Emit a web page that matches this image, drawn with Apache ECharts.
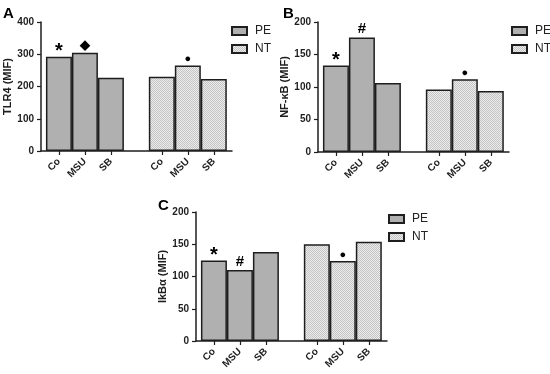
<!DOCTYPE html>
<html><head><meta charset="utf-8">
<script src="https://cdn.jsdelivr.net/npm/echarts@6/dist/echarts.min.js"></script>
<style>html,body{margin:0;padding:0;background:#fff}#c{width:550px;height:374px}</style>
</head><body><div id="c"></div>
<script>
// ---- data ----
const categories = ['Co', 'MSU', 'SB'];
const seriesNames = ['PE', 'NT'];
const tlr4PE = [292, 305, 227];
const tlr4NT = [230, 265, 223];
const nfkbPE = [133, 176, 106];
const nfkbNT = [96, 112, 94];
const ikbPE = [125, 110, 138];
const ikbNT = [150, 124, 154];
const markA_PE = ['*', '◆', ''];
const markA_NT = ['', '●', ''];
const markB_PE = ['*', '#', ''];
const markB_NT = ['', '●', ''];
const markC_PE = ['*', '#', ''];
const markC_NT = ['', '●', ''];

// slot positions along the x axis (in bar-width units)
const slotPE = [0.69, 1.69, 2.69];
const slotNT = [4.65, 5.65, 6.65];
const X_MAX = 7.35;
const tickX = slotPE.concat(slotNT);
const tickLabels = categories.concat(categories);

// ---- styles ----
const FONT = '"Liberation Sans", Arial, sans-serif';
const INK = '#1e1e1e';
function makePattern() {
  const c = document.createElement('canvas');
  c.width = 2; c.height = 2;
  const g = c.getContext('2d');
  g.fillStyle = '#ececec'; g.fillRect(0, 0, 2, 2);
  g.fillStyle = '#c4c4c4'; g.fillRect(0, 0, 1, 1); g.fillRect(1, 1, 1, 1);
  return c;
}
const ntFill = { image: makePattern(), repeat: 'repeat' };
const peFill = '#b0b0b0';
const markStyles = {
  '*': { fontSize: 20, padding: [0, 0, -6, 0] },
  '◆': { fontSize: 13, padding: [0, 0, 0, 0] },
  '●': { fontSize: 11, padding: [0, 0, 0, 0] },
  '#': { fontSize: 15, padding: [0, 0, 0, 0] }
};

const panels = [
  { title: 'A', tLeft: 3, tTop: 6, left: 41, top: 22, height: 129, yMax: 400, yInt: 100, yName: 'TLR4 (MIF)', pe: tlr4PE, nt: tlr4NT, mPE: markA_PE, mNT: markA_NT, lgLeft: 231, lgTop: 25 },
  { title: 'B', tLeft: 283, tTop: 6, left: 318, top: 22, height: 130, yMax: 200, yInt: 50, yName: 'NF-κB (MIF)', pe: nfkbPE, nt: nfkbNT, mPE: markB_PE, mNT: markB_NT, lgLeft: 511, lgTop: 25 },
  { title: 'C', tLeft: 158, tTop: 198, left: 196, top: 212, height: 129, yMax: 200, yInt: 50, yName: 'IkBα (MIF)', pe: ikbPE, nt: ikbNT, mPE: markC_PE, mNT: markC_NT, lgLeft: 388, lgTop: 213 }
];
const GRID_W = 191;
const BAR_W = GRID_W / X_MAX;

function markLabel(marks) {
  const rich = {};
  Object.keys(markStyles).forEach((k, i) => {
    rich['m' + i] = Object.assign({ fontWeight: 'bold', color: '#000', fontFamily: FONT }, markStyles[k]);
  });
  return {
    show: true, position: 'top', distance: 1,
    formatter: p => {
      const s = marks[p.dataIndex];
      if (!s) return '';
      const idx = Object.keys(markStyles).indexOf(s);
      return '{m' + idx + '|' + s + '}';
    },
    rich: rich
  };
}

const option = {
  animation: false,
  backgroundColor: '#fff',
  title: [], grid: [], xAxis: [], yAxis: [], legend: [], series: []
};

panels.forEach((p, i) => {
  option.title.push({ text: p.title, left: p.tLeft, top: p.tTop, padding: 0,
    textStyle: { fontSize: 15, fontWeight: 'bold', color: '#000', fontFamily: FONT } });
  option.grid.push({ left: p.left, top: p.top, width: GRID_W, height: p.height, containLabel: false, outerBoundsMode: 'none' });
  option.xAxis.push({
    gridIndex: i, type: 'value', min: 0, max: X_MAX,
    splitLine: { show: false },
    axisLine: { show: true, onZero: false, lineStyle: { color: INK, width: 1.5 } },
    axisTick: { show: true, customValues: tickX, length: 4, lineStyle: { color: INK, width: 1.2 } },
    axisLabel: {
      customValues: tickX, rotate: 45, margin: 9, fontSize: 10, fontWeight: 'bold', color: INK, fontFamily: FONT,
      formatter: v => { const k = tickX.findIndex(t => Math.abs(t - v) < 1e-6); return k >= 0 ? tickLabels[k] : ''; }
    }
  });
  option.yAxis.push({
    gridIndex: i, type: 'value', min: 0, max: p.yMax, interval: p.yInt,
    splitLine: { show: false },
    axisLine: { show: true, lineStyle: { color: INK, width: 1.5 } },
    axisTick: { show: true, length: 4, lineStyle: { color: INK, width: 1.2 } },
    axisLabel: { fontSize: 10, fontWeight: 'bold', color: INK, margin: 7, fontFamily: FONT },
    name: p.yName, nameLocation: 'middle', nameRotate: 90, nameGap: 23,
    nameTextStyle: { fontSize: 11, fontWeight: 'bold', color: INK, fontFamily: FONT }
  });
  option.legend.push({
    data: seriesNames, orient: 'vertical', left: p.lgLeft, top: p.lgTop, padding: 0,
    itemWidth: 15, itemHeight: 8, itemGap: 6, icon: 'rect',
    textStyle: { fontSize: 12, color: '#222', fontFamily: FONT, padding: [0, 0, 0, 3] },
    selectedMode: false
  });
  option.series.push({
    type: 'bar', name: 'PE', xAxisIndex: i, yAxisIndex: i,
    data: p.pe.map((v, k) => [slotPE[k], v]),
    barWidth: BAR_W, barGap: '-100%',
    itemStyle: { color: peFill, borderColor: INK, borderWidth: 1.5 },
    label: markLabel(p.mPE)
  });
  option.series.push({
    type: 'bar', name: 'NT', xAxisIndex: i, yAxisIndex: i,
    data: p.nt.map((v, k) => [slotNT[k], v]),
    barWidth: BAR_W, barGap: '-100%',
    itemStyle: { color: ntFill, borderColor: INK, borderWidth: 1.5 },
    label: markLabel(p.mNT)
  });
});

const chart = echarts.init(document.getElementById('c'), null, { renderer: 'canvas' });
chart.setOption(option);
</script>
</body></html>
